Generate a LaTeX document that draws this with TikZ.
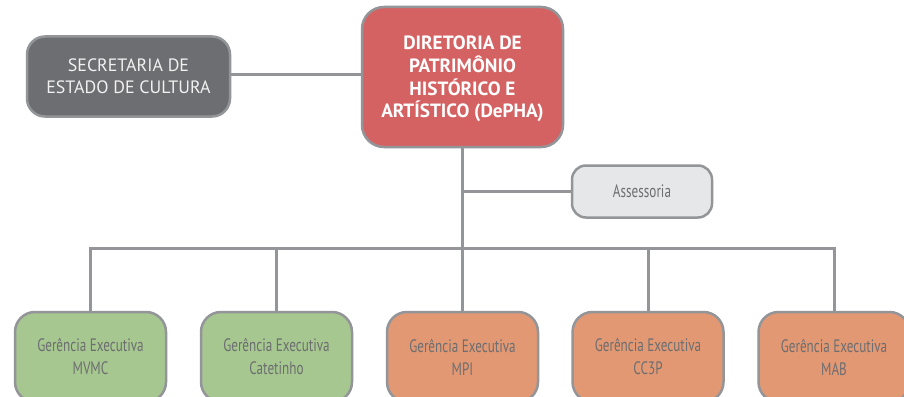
\documentclass[tikz,border=0pt]{standalone}
\usepackage{fontspec}
\setmainfont{PT Sans}
\newfontfamily\condfont{PT Sans}[FakeStretch=0.73]
\definecolor{bordergray}{HTML}{939598}
\definecolor{darkbox}{HTML}{6D6E71}
\definecolor{lighttext}{HTML}{F1F1F2}
\definecolor{redbox}{HTML}{D46262}
\definecolor{greenbox}{HTML}{A6C78F}
\definecolor{orangebox}{HTML}{E29873}
\definecolor{lightbox}{HTML}{E6E7E8}
\definecolor{graytext}{HTML}{6D6E71}
\begin{document}
\begin{tikzpicture}[x=1pt,y=-1pt,
  box/.style={draw=bordergray, line width=2.5pt, align=center, inner sep=0pt},
  secbox/.style={box, fill=darkbox, text=lighttext, rounded corners=18pt,
    minimum width=203pt, minimum height=80pt,
    font=\fontsize{17.9}{22}\selectfont},
  dirbox/.style={box, fill=redbox, text=white, rounded corners=22pt,
    minimum width=201pt, minimum height=140pt,
    font=\fontsize{19.2}{22.6}\selectfont\bfseries},
  assbox/.style={box, fill=lightbox, text=graytext, rounded corners=14pt,
    minimum width=140pt, minimum height=52pt,
    font=\condfont\fontsize{18}{23}\selectfont},
  gerbox/.style={box, text=graytext, rounded corners=20pt,
    minimum width=151pt, minimum height=90pt,
    font=\condfont\fontsize{18}{23}\selectfont},
  green/.style={gerbox, fill=greenbox},
  orange/.style={gerbox, fill=orangebox},
  conn/.style={draw=bordergray, line width=3pt}
]
\useasboundingbox (0,0) rectangle (904,396);
\clip (0,0) rectangle (904,396);
\fill[white] (0,0) rectangle (904,396);

\node[secbox] (sec) at (128.5,76.5) {SECRETARIA DE\\ESTADO DE CULTURA};
\node[dirbox] (dir) at (462.5,77) {\rule{0pt}{18pt}DIRETORIA DE\\PATRIMÔNIO\\HISTÓRICO E\\ARTÍSTICO (DePHA)};
\node[assbox] (ass) at (642,191.5) {Assessoria};

\node[green]  (b1) at (90.5,357)  {Gerência Executiva\\MVMC};
\node[green]  (b2) at (276.5,357) {Gerência Executiva\\Catetinho};
\node[orange] (b3) at (462.5,357) {Gerência Executiva\\MPI};
\node[orange] (b4) at (648,357)   {Gerência Executiva\\CC3P};
\node[orange] (b5) at (834,357)   {Gerência Executiva\\MAB};

\coordinate (bus) at (0,248.5);

\draw[conn] ([yshift=2.5pt]sec.east) -- ([yshift=2.5pt]sec.east -| dir.west);
\draw[conn] (dir.south) -- (dir.south |- bus);
\draw[conn] (ass.west) -- (ass.west -| dir.south);
\draw[conn] (b1.north) -- (b1.north |- bus) -- (b5.north |- bus) -- (b5.north);
\draw[conn] (b2.north) -- (b2.north |- bus);
\draw[conn] (b3.north) -- (b3.north |- bus);
\draw[conn] (b4.north) -- (b4.north |- bus);
\end{tikzpicture}
\end{document}
